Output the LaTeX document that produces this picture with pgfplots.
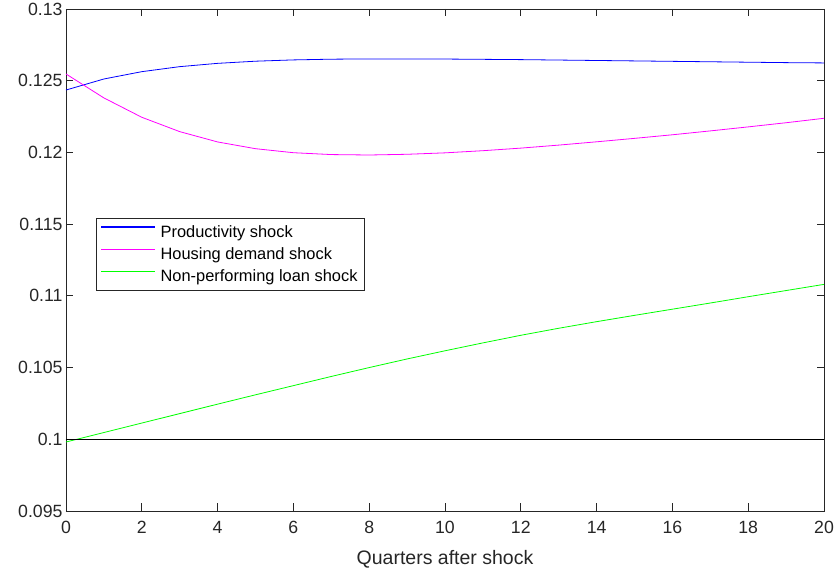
\documentclass[border=0pt]{standalone}
\usepackage{pgfplots}
\pgfplotsset{compat=1.18}
\usepackage{fontspec}
\setmainfont{Liberation Sans}
\definecolor{axgray}{rgb}{0.15,0.15,0.15}
\definecolor{mblue}{rgb}{0,0,1}
\definecolor{mmag}{rgb}{1,0,1}
\definecolor{mgreen}{rgb}{0,1,0}
\begin{document}
\begin{tikzpicture}
\begin{axis}[name=ax,
  scale only axis, width=758pt, height=502pt,
  xmin=0, xmax=20, ymin=0.095, ymax=0.13,
  xtick={0,2,...,20},
  ytick={0.095,0.1,0.105,0.11,0.115,0.12,0.125,0.13},
  yticklabels={0.095,0.1,0.105,0.11,0.115,0.12,0.125,0.13},
  scaled y ticks=false,
  tick align=inside, major tick length=7.5pt,
  axis line style={axgray, line width=0.8pt},
  tick style={axgray, line width=0.8pt},
  ticklabel style={font=\fontsize{17.7}{18}\selectfont, text=axgray},
  xticklabel style={yshift=-7pt},
  /pgf/number format/assume math mode=true,
  xlabel={Quarters after shock},
  xlabel style={font=\fontsize{19.5}{20}\selectfont, text=axgray, yshift=-9pt},
  legend style={at={(rel axis cs:0.0396,0.584)}, anchor=north west,
    font=\fontsize{16.4}{20}\selectfont, draw=axgray, line width=0.8pt,
    inner xsep=4pt, inner ysep=6pt, row sep=6.8pt,
    nodes={inner sep=1pt},
    /tikz/every odd column/.append style={column sep=4pt},
    cells={anchor=west}},
  legend image code/.code={\draw[#1, line width=1.2pt] (0pt,5pt) -- (54pt,5pt);},
  legend cell align=left,
]
\addplot[draw=mblue, line width=0.8pt] coordinates {
(0,0.12435)(1,0.12512)(2,0.12563)(3,0.12598)(4,0.12621)(5,0.12636)(6,0.12645)(7,0.12650)(8,0.12652)(9,0.12652)(10,0.12651)(11,0.12649)(12,0.12647)(13,0.12644)(14,0.12641)(15,0.12638)(16,0.12635)(17,0.12632)(18,0.12629)(19,0.12626)(20,0.12624)};
\addlegendentry{\makebox[199pt][l]{Productivity shock}}
\addplot[draw=mmag, line width=0.8pt] coordinates {
(0,0.12547)(1,0.12380)(2,0.12245)(3,0.12145)(4,0.12073)(5,0.12026)(6,0.11998)(7,0.11985)(8,0.11982)(9,0.11987)(10,0.11997)(11,0.12012)(12,0.12030)(13,0.12051)(14,0.12074)(15,0.12098)(16,0.12123)(17,0.12150)(18,0.12178)(19,0.12207)(20,0.12238)};
\addlegendentry{Housing demand shock}
\addplot[draw=mgreen, line width=0.8pt] coordinates {
(0,0.09981)(1,0.10047)(2,0.10113)(3,0.10179)(4,0.10245)(5,0.10310)(6,0.10374)(7,0.10438)(8,0.10500)(9,0.10560)(10,0.10617)(11,0.10672)(12,0.10725)(13,0.10774)(14,0.10820)(15,0.10864)(16,0.10907)(17,0.10950)(18,0.10994)(19,0.11037)(20,0.11080)};
\addlegendentry{Non-performing loan shock}
\addplot[draw=black, line width=0.8pt, forget plot] coordinates {(0,0.1)(20,0.1)};
\end{axis}
\pgfresetboundingbox
\path ([xshift=-66pt,yshift=-60pt]ax.south west) rectangle ([xshift=14pt,yshift=9pt]ax.north east);
\end{tikzpicture}
\end{document}
